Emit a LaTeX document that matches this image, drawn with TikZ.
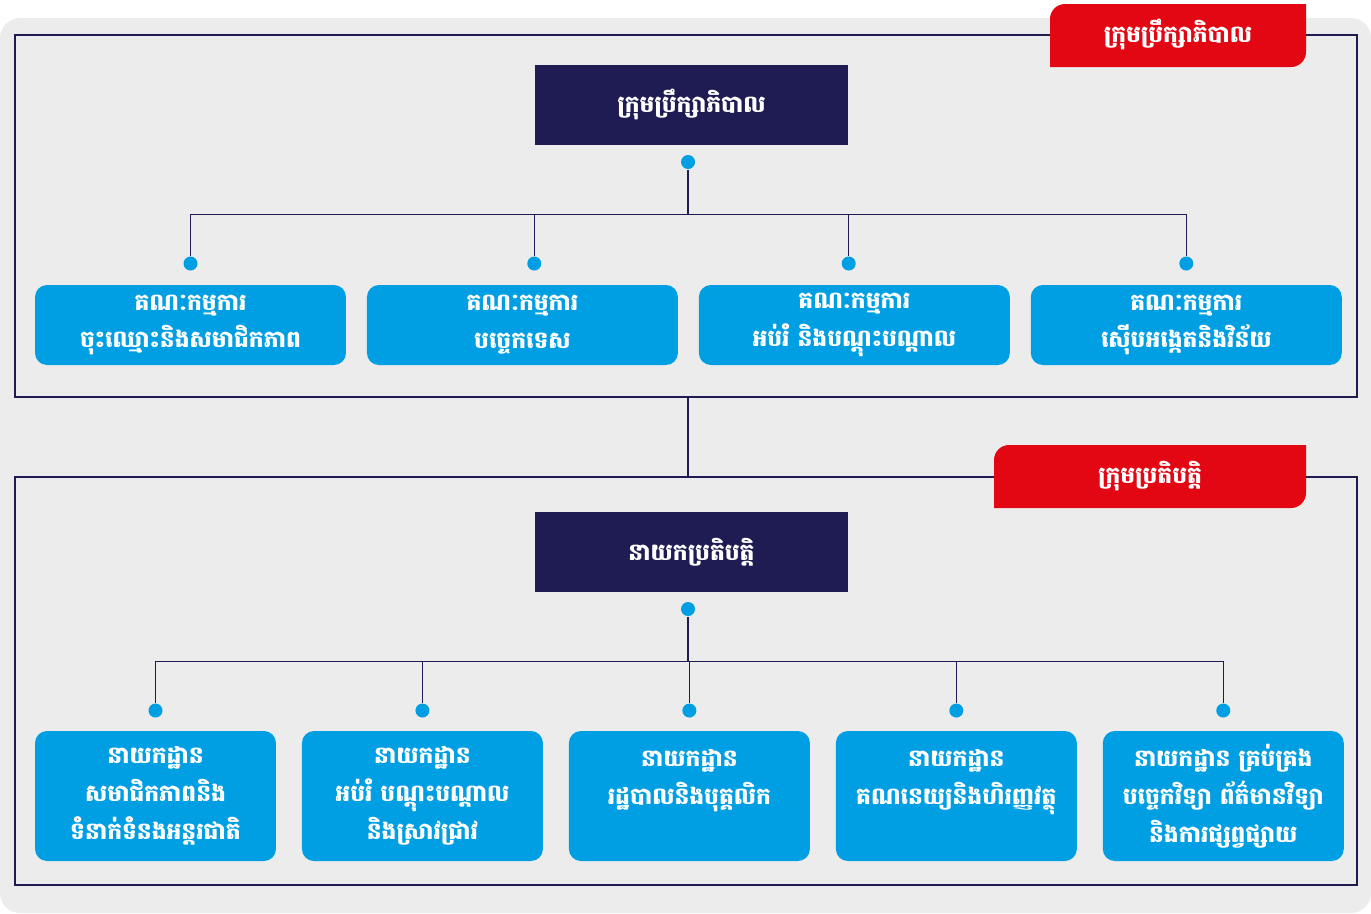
\documentclass[tikz,border=0pt]{standalone}
\usepackage{fontspec}
\newfontfamily\khmer[Script=Khmer]{Battambang}
\usetikzlibrary{positioning}
\definecolor{navy}{HTML}{1E1C52}
\definecolor{skyblue}{HTML}{009FE3}
\definecolor{tagred}{HTML}{E30613}
\definecolor{bggrey}{HTML}{ECECEC}
\newcommand{\khmerbold}{\khmer\bfseries\fontsize{13.3}{21.5}\selectfont}

\begin{document}
\begin{tikzpicture}[x=0.02cm, y=-0.02cm, line width=0.85pt, node distance=0.39cm,
    headbox/.style={fill=navy, text=white, minimum width=6.26cm, minimum height=1.6cm, font=\khmerbold},
    tagtext/.style={text=white, font=\khmerbold},
    commbox/.style={fill=skyblue, text=white, rounded corners=0.24cm, minimum width=6.22cm, minimum height=1.6cm, align=center, font=\khmerbold},
    deptbox/.style={commbox, minimum width=4.82cm, minimum height=2.6cm},
    joint/.style={circle, fill=skyblue, inner sep=0pt, minimum size=0.28cm},
    frame/.style={draw=navy, minimum width=26.84cm},
    link/.style={draw=navy}]
    \useasboundingbox (0,0) rectangle (1371,913);
    \fill[bggrey, rounded corners=0.4cm] (0,18) rectangle (1371,913);

    % frames and red tags
    \node[frame, minimum height=7.24cm] (board-frame) at (686,216) {};
    \node[frame, minimum height=8.16cm] (exec-frame) at (686,681) {};
    \fill[tagred] (1050,67) [rounded corners=0.3cm] -- (1050,4) [sharp corners] -- (1306,4) [rounded corners=0.3cm] -- (1306,67) [sharp corners] -- cycle;
    \fill[tagred] (994,508) [rounded corners=0.3cm] -- (994,445) [sharp corners] -- (1306,445) [rounded corners=0.3cm] -- (1306,508) [sharp corners] -- cycle;
    \node[tagtext] (board-tag) at (1178,35) {ក្រុមប្រឹក្សាភិបាល};
    \node[tagtext] (exec-tag) at (1150,476) {ក្រុមប្រតិបត្តិ};

    % board of directors
    \node[headbox] (board) at (691.5,105) {ក្រុមប្រឹក្សាភិបាល};
    \node[joint] (board-dot) at (688,162) {};
    \coordinate[below=0.9cm of board-dot] (board-bus);
    \node[commbox] (reg) at (190.5,325) {គណៈកម្មការ\\ចុះឈ្មោះនិងសមាជិកភាព};
    \node[commbox, right=of reg] (tech) {គណៈកម្មការ\\បច្ចេកទេស};
    \node[commbox, right=of tech] (edu) {គណៈកម្មការ\\អប់រំ និងបណ្តុះបណ្តាល};
    \node[commbox, right=of edu] (inv) {គណៈកម្មការ\\ស៊ើបអង្កេតនិងវិន័យ};
    \node[joint, above=0.26cm of reg] (reg-dot) {};
    \node[joint] (tech-dot) at (board.west |- reg-dot) {};
    \node[joint] (edu-dot) at (board.east |- reg-dot) {};
    \node[joint, above=0.26cm of inv] (inv-dot) {};

    \draw[link] (board-dot) -- (board-bus);
    \draw[link] (board-bus) -| (reg-dot);
    \draw[link] (board-bus) -| (tech-dot);
    \draw[link] (board-bus) -| (edu-dot);
    \draw[link] (board-bus) -| (inv-dot);

    \draw[link] (board-frame.south -| board-dot) -- (exec-frame.north -| board-dot);

    % executive team
    \node[headbox] (exec) at (691.5,552) {នាយកប្រតិបត្តិ};
    \node[joint] (exec-dot) at (688,609) {};
    \coordinate[below=0.9cm of exec-dot] (exec-bus);
    \node[deptbox] (dept-mem) at (155.5,796) {នាយកដ្ឋាន\\សមាជិកភាពនិង\\ទំនាក់ទំនងអន្តរជាតិ};
    \node[deptbox, right=0.49cm of dept-mem] (dept-edu) {នាយកដ្ឋាន\\អប់រំ បណ្តុះបណ្តាល\\និងស្រាវជ្រាវ};
    \node[deptbox, right=0.49cm of dept-edu] (dept-admin) {នាយកដ្ឋាន\\រដ្ឋបាលនិងបុគ្គលិក\\\mbox{}};
    \node[deptbox, right=0.49cm of dept-admin] (dept-fin) {នាយកដ្ឋាន\\គណនេយ្យនិងហិរញ្ញវត្ថុ\\\mbox{}};
    \node[deptbox, right=0.49cm of dept-fin] (dept-it) {នាយកដ្ឋាន គ្រប់គ្រង\\បច្ចេកវិទ្យា ព័ត៌មានវិទ្យា\\និងការផ្សព្វផ្សាយ};
    \foreach \d in {dept-mem, dept-edu, dept-admin, dept-fin, dept-it} {
        \node[joint, above=0.24cm of \d] (\d-dot) {};
        \draw[link] (exec-bus) -| (\d-dot);
    }
    \draw[link] (exec-dot) -- (exec-bus);

\end{tikzpicture}
\end{document}
